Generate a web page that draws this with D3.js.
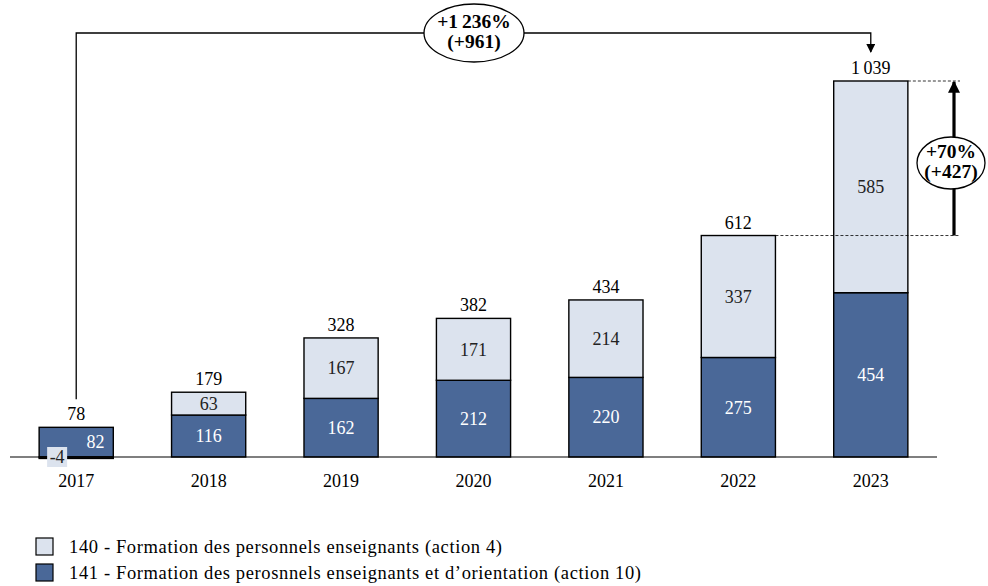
<!DOCTYPE html>
<html>
<head>
<meta charset="utf-8">
<script src="https://cdn.jsdelivr.net/npm/d3@7/dist/d3.min.js"></script>
<style>
  body { margin: 0; background: #fff; }
  svg { display: block; font-family: "Liberation Serif", "Times New Roman", serif; }
</style>
</head>
<body>
<svg id="chart" width="988" height="586"></svg>
<script>
// Crédits de formation par programme (en M€)
const years = ["2017", "2018", "2019", "2020", "2021", "2022", "2023"];
const prog141 = [82, 116, 162, 212, 220, 275, 454];   // action 10
const prog140 = [-4, 63, 167, 171, 214, 337, 585];    // action 4
const totals  = [78, 179, 328, 382, 434, 612, 1039];

// Évolutions annotées
const growthAll = ["+1\u202f236%", "(+961)"];   // 2017 → 2023
const growthLast = ["+70%", "(+427)"];         // 2022 → 2023

const legendLabels = [
  "140 - Formation des personnels enseignants (action 4)",
  "141 - Formation des perosnnels enseignants et d\u2019orientation (action 10)"
];
const legendWidths = [433, 572];

const colorLight = "#dce3ee";
const colorDark = "#4a6898";

const fr = d3.formatLocale({ decimal: ",", thousands: "\u202f", grouping: [3], currency: ["", " €"] });
const fmt = fr.format(",d");

const svg = d3.select("#chart");

const x = d3.scaleBand().domain(years).range([10, 937]).paddingInner(0.44).paddingOuter(0.22);
const y = d3.scaleLinear().domain([0, 1039]).range([457, 81]);

const rows = years.map((yr, i) => ({ year: yr, a141: prog141[i], a140: prog140[i], total: totals[i] }));

// Segments : le 141 part de zéro, le 140 s'empile au-dessus (ou en dessous si négatif)
const segs = [];
rows.forEach(r => {
  segs.push({ year: r.year, key: "141", y0: 0, y1: r.a141, v: r.a141 });
  if (r.a140 >= 0) segs.push({ year: r.year, key: "140", y0: r.a141, y1: r.a141 + r.a140, v: r.a140 });
  else segs.push({ year: r.year, key: "140", y0: r.a140, y1: 0, v: r.a140 });
});
rows.forEach(r => { r.top = r.a141 + Math.max(0, r.a140); });

const g = svg.append("g");

g.selectAll("rect.seg").data(segs).join("rect")
  .attr("class", "seg")
  .attr("x", d => x(d.year))
  .attr("width", x.bandwidth())
  .attr("y", d => y(Math.max(d.y0, d.y1)))
  .attr("height", d => Math.abs(y(d.y0) - y(d.y1)))
  .attr("fill", d => d.key === "141" ? colorDark : colorLight)
  .attr("stroke", "#000")
  .attr("stroke-width", 1.4);

// Axe des abscisses
svg.append("line")
  .attr("x1", 10).attr("x2", 937)
  .attr("y1", y(0)).attr("y2", y(0))
  .attr("stroke", "#000").attr("stroke-width", 1.2);

const xAxis = svg.append("g").attr("transform", `translate(0,${y(0)})`)
  .call(d3.axisBottom(x).tickSize(0).tickPadding(17));
xAxis.select(".domain").remove();
xAxis.selectAll("text").attr("font-family", "Liberation Serif, serif").attr("font-size", 18).attr("fill", "#000");

// Étiquettes des segments
const inner = segs.filter(d => d.v >= 0);
g.selectAll("text.val").data(inner).join("text")
  .attr("class", "val")
  .attr("x", d => d.year === "2017" ? x(d.year) + x.bandwidth() * 0.76 : x(d.year) + x.bandwidth() / 2)
  .attr("y", d => (y(d.y0) + y(d.y1)) / 2)
  .attr("dy", "0.35em")
  .attr("text-anchor", "middle")
  .attr("font-size", 18)
  .attr("fill", d => d.key === "141" ? "#fff" : "#222")
  .text(d => fmt(d.v));

// Valeur négative avec fond
segs.filter(d => d.v < 0).forEach(d => {
  const cx = x(d.year) + 18;
  const cy = y(0);
  svg.append("rect").attr("x", cx - 10).attr("y", cy - 10).attr("width", 20).attr("height", 20).attr("fill", colorLight);
  svg.append("text").attr("x", cx).attr("y", cy).attr("dy", "0.35em").attr("text-anchor", "middle")
    .attr("font-size", 18).attr("fill", "#222").text(fmt(d.v).replace("\u2212", "-"));
});

// Totaux au-dessus des barres
g.selectAll("text.tot").data(rows).join("text")
  .attr("class", "tot")
  .attr("x", d => x(d.year) + x.bandwidth() / 2)
  .attr("y", d => y(d.top) - 7)
  .attr("text-anchor", "middle")
  .attr("font-size", 18)
  .attr("fill", "#000")
  .text(d => fmt(d.total));

// Flèches
const defs = svg.append("defs");
defs.append("marker").attr("id", "head").attr("viewBox", "0 0 10 10")
  .attr("refX", 9).attr("refY", 5).attr("markerWidth", 9).attr("markerHeight", 9)
  .attr("markerUnits", "userSpaceOnUse").attr("orient", "auto")
  .append("path").attr("d", "M0,0 L10,5 L0,10 Z").attr("fill", "#000");
defs.append("marker").attr("id", "headBig").attr("viewBox", "0 0 10 10")
  .attr("refX", 9).attr("refY", 5).attr("markerWidth", 14).attr("markerHeight", 12)
  .attr("markerUnits", "userSpaceOnUse").attr("orient", "auto")
  .append("path").attr("d", "M0,0 L10,5 L0,10 Z").attr("fill", "#000");

function bubble(cx, cy, rx, ry, lines) {
  svg.append("ellipse").attr("cx", cx).attr("cy", cy).attr("rx", rx).attr("ry", ry)
    .attr("fill", "#fff").attr("stroke", "#000").attr("stroke-width", 1.3);
  lines.forEach((t, i) => {
    svg.append("text").attr("x", cx).attr("y", cy - 5 + i * 20).attr("text-anchor", "middle")
      .attr("font-size", 19.5).attr("font-weight", "bold").attr("fill", "#000").text(t);
  });
}

// Évolution 2017 → 2023
const first = rows[0], last = rows[rows.length - 1];
const xa = x(first.year) + x.bandwidth() / 2;
const xb = x(last.year) + x.bandwidth() / 2;
const topY = 33;
svg.append("path")
  .attr("d", `M${xa},${y(first.top) - 28} V${topY} H${xb} V${y(last.top) - 29}`)
  .attr("fill", "none").attr("stroke", "#000").attr("stroke-width", 1.3)
  .attr("marker-end", "url(#head)");
bubble(474, 33, 50, 29, growthAll);

// Évolution 2022 → 2023
const prev = rows[rows.length - 2];
const xArrow = 954;
svg.append("line").attr("x1", x(prev.year) + x.bandwidth()).attr("x2", xArrow + 6)
  .attr("y1", y(prev.top)).attr("y2", y(prev.top))
  .attr("stroke", "#000").attr("stroke-width", 0.8).attr("stroke-dasharray", "3,2");
svg.append("line").attr("x1", x(last.year) + x.bandwidth()).attr("x2", xArrow + 6)
  .attr("y1", y(last.top)).attr("y2", y(last.top))
  .attr("stroke", "#000").attr("stroke-width", 0.8).attr("stroke-dasharray", "3,2");
svg.append("line").attr("x1", xArrow).attr("x2", xArrow)
  .attr("y1", y(prev.top)).attr("y2", y(last.top) + 1)
  .attr("stroke", "#000").attr("stroke-width", 3.2)
  .attr("marker-end", "url(#headBig)");
bubble(951, 163, 34, 26, growthLast);

// Légende
const leg = svg.append("g").attr("transform", "translate(36,538)");
[colorLight, colorDark].forEach((c, i) => {
  const row = leg.append("g").attr("transform", `translate(0,${i * 26})`);
  row.append("rect").attr("width", 17).attr("height", 17).attr("fill", c)
    .attr("stroke", "#000").attr("stroke-width", 1.2);
  row.append("text").attr("x", 33).attr("y", 9).attr("dy", "0.35em")
    .attr("font-size", 18.5).attr("fill", "#000")
    .attr("textLength", legendWidths[i]).attr("lengthAdjust", "spacing")
    .text(legendLabels[i]);
});
</script>
</body>
</html>
